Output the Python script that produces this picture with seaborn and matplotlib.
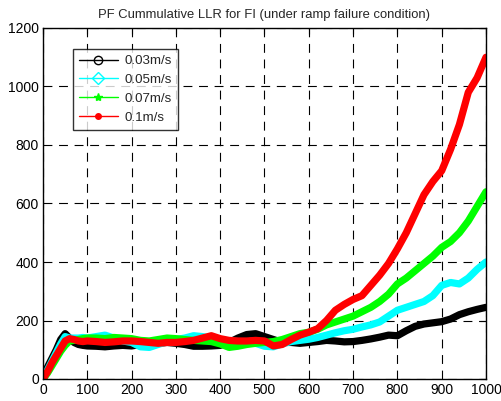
import matplotlib
matplotlib.use("Agg")
import matplotlib.pyplot as plt
import seaborn as sns
import pandas as pd
from matplotlib.lines import Line2D

x_vals = [0, 10, 20, 30, 40, 50, 60, 70, 80, 90, 100,
          120, 140, 160, 180, 200, 220, 240, 260, 280, 300,
          320, 340, 360, 380, 400, 420, 440, 460, 480, 500,
          520, 540, 560, 580, 600, 620, 640, 660, 680, 700,
          720, 740, 760, 780, 800, 820, 840, 860, 880, 900,
          920, 940, 960, 980, 1000]

v003 = [5, 40, 70, 100, 135, 155, 140, 125, 118, 115, 113,
        112, 110, 113, 115, 113, 118, 120, 122, 125, 122,
        118, 112, 112, 113, 115, 125, 140, 152, 155, 145,
        135, 125, 125, 122, 125, 128, 132, 130, 127, 128,
        132, 137, 143, 150, 148, 165, 180, 188, 192, 196,
        205, 220, 230, 238, 245]

v005 = [0, 30, 60, 90, 120, 145, 140, 140, 140, 142, 140,
        145, 150, 140, 130, 125, 110, 108, 118, 128, 135,
        140, 148, 145, 140, 135, 130, 128, 125, 122, 112,
        110, 120, 128, 132, 136, 142, 150, 158, 165, 170,
        178, 185, 195, 215, 235, 245, 255, 265, 285, 320,
        330, 325, 345, 375, 400]

v007 = [0, 20, 45, 70, 95, 115, 130, 132, 135, 138, 140,
        140, 138, 142, 140, 138, 132, 130, 135, 140, 138,
        135, 132, 130, 128, 120, 108, 112, 118, 122, 125,
        128, 135, 145, 155, 160, 170, 185, 195, 205, 215,
        230, 245, 265, 290, 325, 345, 370, 395, 420, 450,
        470, 500, 540, 590, 640]

v010 = [0, 25, 55, 80, 105, 130, 138, 135, 130, 128, 130,
        128, 125, 127, 130, 130, 128, 125, 122, 125, 125,
        128, 132, 140, 148, 138, 132, 130, 130, 132, 130,
        113, 118, 135, 150, 160, 172, 200, 235, 255, 272,
        285, 320, 355, 395, 445, 500, 565, 630, 675, 712,
        785, 870, 980, 1030, 1100]

labels = ["0.03m/s", "0.05m/s", "0.07m/s", "0.1m/s"]
colors = ["#000000", "#00ffff", "#00ff00", "#ff0000"]
markers = ["o", "D", "*", "."]
series = [v003, v005, v007, v010]

sns.set_style("white")
plt.rcParams['font.family'] = ['Liberation Sans', 'DejaVu Sans']

fig = plt.figure(figsize=(5.02, 4.01), dpi=100)
ax = fig.add_axes([43 / 502, 1 - 379 / 401, (486 - 43) / 502, (379 - 28) / 401])

for vals, c in zip(series, colors):
    df = pd.DataFrame({"x": x_vals, "y": vals})
    sns.lineplot(data=df, x="x", y="y", color=c, linewidth=5.2, ax=ax,
                 solid_capstyle="round", solid_joinstyle="round")

ax.set_xlim(0, 1000)
ax.set_ylim(0, 1200)
ax.set_xticks(range(0, 1001, 100))
ax.set_yticks(range(0, 1201, 200))
ax.set_xlabel("")
ax.set_ylabel("")
ax.grid(True, color="black", linestyle=(0, (8, 6)), linewidth=0.8)
ax.set_axisbelow(True)
for s in ax.spines.values():
    s.set_color("black")
    s.set_linewidth(1.0)
ax.tick_params(direction="in", top=True, right=True, length=4, width=0.8,
               labelsize=10, colors="black", pad=3)
ax.set_title("PF Cummulative LLR for FI (under ramp failure condition)",
             fontsize=9.4, pad=7)

handles = [Line2D([0], [0], color=c, marker=m, markersize=(6 if m != "." else 8),
                  markerfacecolor=("none" if m in ("o", "D") else c),
                  markeredgecolor=c, linewidth=1.0)
           for c, m in zip(colors, markers)]
leg = ax.legend(handles, labels, loc="upper left", bbox_to_anchor=(0.068, 0.94),
                frameon=True, fancybox=False, edgecolor="black", fontsize=9.6,
                handlelength=2.9, handletextpad=0.5, borderpad=0.45,
                labelspacing=0.48, borderaxespad=0)
leg.get_frame().set_linewidth(1.0)

fig.savefig("out.png", dpi=100)
